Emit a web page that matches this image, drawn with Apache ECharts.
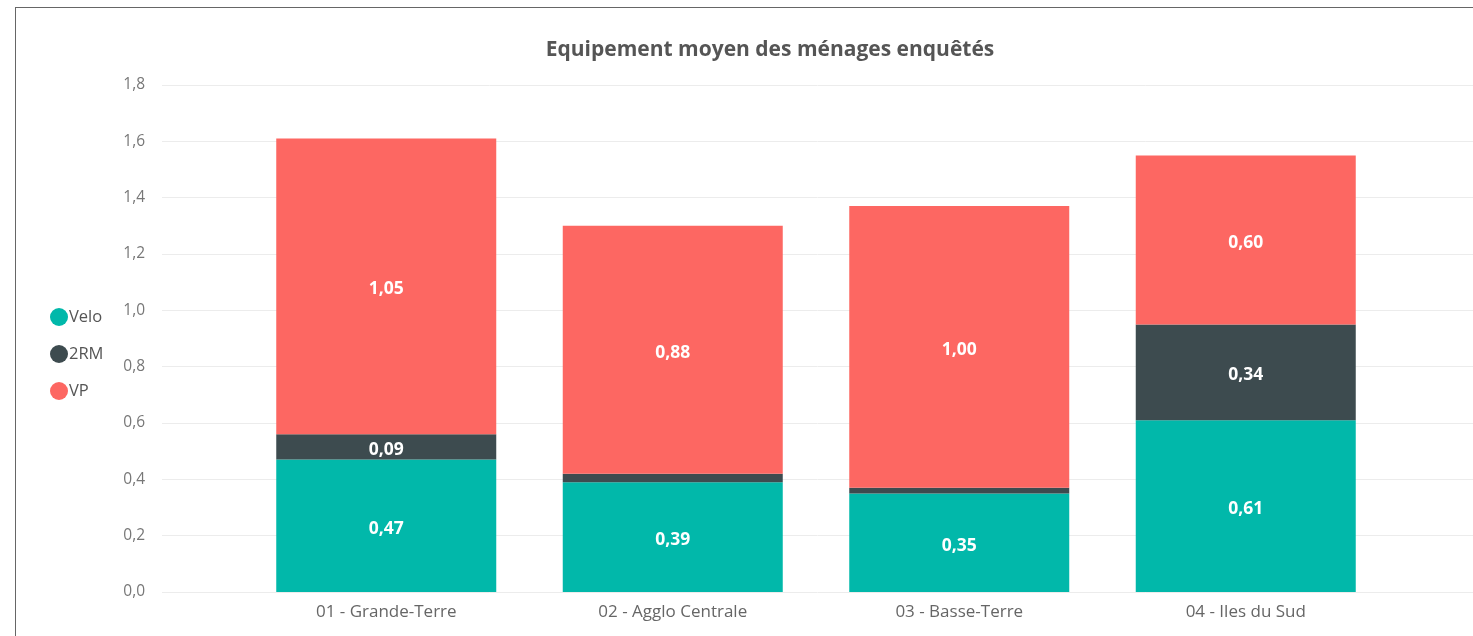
<!DOCTYPE html>
<html><head><meta charset="utf-8">
<script src="https://cdn.jsdelivr.net/npm/echarts@6/dist/echarts.min.js"></script>
<style>
html,body{margin:0;padding:0;background:#fff;}
#frame{position:absolute;left:15px;top:7px;width:1470px;height:640px;border-left:1px solid #666;border-top:1px solid #666;}
#c{position:absolute;left:0;top:0;width:1473px;height:636px;}
</style></head>
<body>
<div id="frame"></div>
<div id="c"></div>
<script>
const categories = ['01 - Grande-Terre', '02 - Agglo Centrale', '03 - Basse-Terre', '04 - Iles du Sud'];
const velo = [0.47, 0.39, 0.35, 0.61];
const deuxRM = [0.09, 0.03, 0.02, 0.34];
const vp = [1.05, 0.88, 1.00, 0.60];
const seriesNames = ['Velo', '2RM', 'VP'];
const colors = ['#01B8AA', '#3D4B4F', '#FD6762'];
const yMin = 0, yMax = 1.8, yStep = 0.2;

const font = '"Open Sans", "Noto Sans", sans-serif';
const chart = echarts.init(document.getElementById('c'));
const fmt = v => v.toFixed(1).replace('.', ',');
const lbl = {
  show: true, position: 'inside', color: '#fff', fontWeight: 'bold', fontSize: 17.5, fontFamily: font,
  offset: [0, 3],
  formatter: p => p.value < 0.05 ? '' : p.value.toFixed(2).replace('.', ',')
};
const mk = (name, data, i) => ({
  name, type: 'bar', stack: 'total', xAxisIndex: 1, yAxisIndex: 1,
  data, barWidth: 220, itemStyle: {color: colors[i]}, label: lbl
});
chart.setOption({
  animation: false,
  title: {text: 'Equipement moyen des ménages enquêtés', left: 765, textAlign: 'center', top: 35,
    textStyle: {fontFamily: font, fontSize: 21, fontWeight: 'bold', color: '#555'}},
  legend: {orient: 'vertical', left: 45, top: 303, itemGap: 19, icon: 'circle', itemWidth: 18, itemHeight: 18,
    data: seriesNames, textStyle: {fontFamily: font, fontSize: 16.5, color: '#555', padding: [0, 0, 0, -4]}},
  grid: [
    {left: 162, right: 0, top: 85, bottom: 44},
    {left: 243, right: 84, top: 85, bottom: 44}
  ],
  xAxis: [
    {type: 'value', gridIndex: 0, show: false, min: 0, max: 1},
    {type: 'category', gridIndex: 1, data: categories, axisLine: {show: false}, axisTick: {show: false},
      axisLabel: {fontFamily: font, fontSize: 17, color: '#666', margin: 12}}
  ],
  yAxis: [
    {type: 'value', gridIndex: 0, min: yMin, max: yMax, interval: yStep,
      axisLine: {show: false}, axisTick: {show: false},
      axisLabel: {formatter: fmt, fontFamily: font, fontSize: 15.5, color: '#777', margin: 17},
      splitLine: {lineStyle: {color: '#ececec', width: 1}}},
    {type: 'value', gridIndex: 1, min: yMin, max: yMax, interval: yStep, show: false, splitLine: {show: false}}
  ],
  series: [
    mk(seriesNames[0], velo, 0),
    mk(seriesNames[1], deuxRM, 1),
    mk(seriesNames[2], vp, 2)
  ]
});
</script>
</body></html>
